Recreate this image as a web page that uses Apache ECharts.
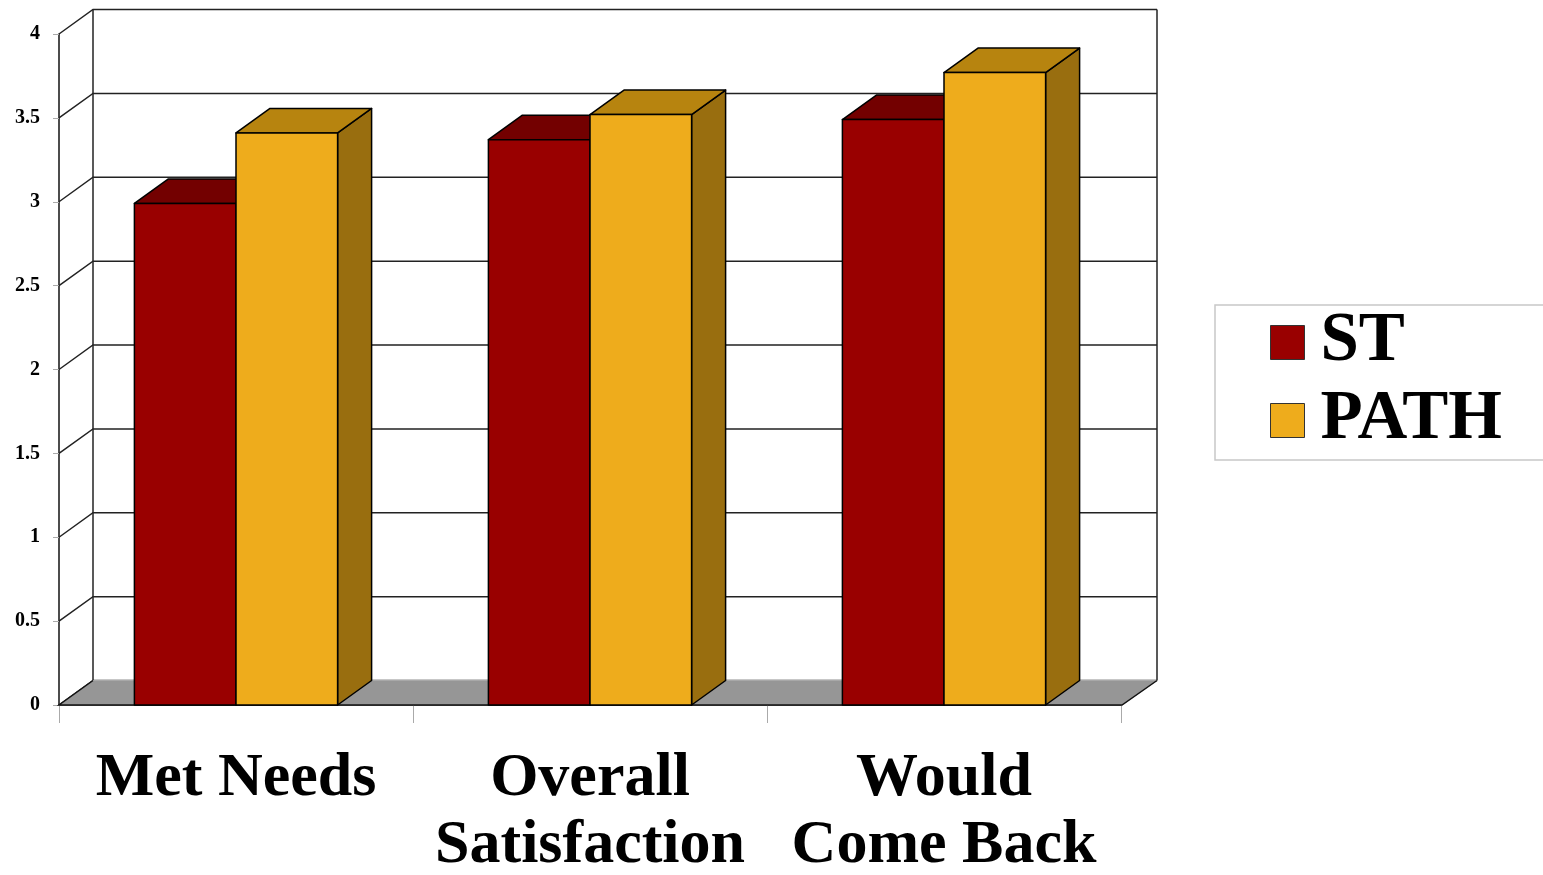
<!DOCTYPE html>
<html>
<head>
<meta charset="UTF-8">
<title>ST vs PATH</title>
<script src="https://cdn.jsdelivr.net/npm/echarts@6/dist/echarts.min.js"></script>
<style>
  html, body { margin: 0; padding: 0; background: #fff; }
  #chart { width: 1543px; height: 875px; }
</style>
</head>
<body>
<div id="chart"></div>
<script>
var categories = ['Met Needs', 'Overall\nSatisfaction', 'Would\nCome Back'];
var seriesNames = ['ST', 'PATH'];
var stValues = [2.99, 3.37, 3.49];
var pathValues = [3.41, 3.52, 3.77];
var yTicks = [0, 0.5, 1, 1.5, 2, 2.5, 3, 3.5, 4];

// depth of the fake 3d box, in px
var DX = 34, DY = -24.5;
var BAR_RATIO = 0.287;

var faces = {
  ST:   { front: '#990000', top: '#730000', side: '#5e0000' },
  PATH: { front: '#EEAC1C', top: '#B7840F', side: '#996E0F' }
};

function toPairs(vals) {
  return vals.map(function (v, i) { return [i, v]; });
}

function barRenderer(slot, c) {
  return function (params, api) {
    var cat = api.value(0);
    var base = api.coord([cat, 0]);
    var tip = api.coord([cat, api.value(1)]);
    var w = api.size([1, 0])[0] * BAR_RATIO;
    var x0 = slot === 0 ? base[0] - w : base[0];
    var x1 = x0 + w;
    var y0 = base[1], y1 = tip[1];
    var edge = { stroke: '#000', lineWidth: 1.5, lineJoin: 'round' };
    return {
      type: 'group',
      children: [
        { type: 'polygon', shape: { points: [[x1, y1], [x1 + DX, y1 + DY], [x1 + DX, y0 + DY], [x1, y0]] },
          style: Object.assign({ fill: c.side }, edge) },
        { type: 'polygon', shape: { points: [[x0, y1], [x0 + DX, y1 + DY], [x1 + DX, y1 + DY], [x1, y1]] },
          style: Object.assign({ fill: c.top }, edge) },
        { type: 'rect', shape: { x: x0, y: y1, width: w, height: y0 - y1 },
          style: Object.assign({ fill: c.front }, edge) }
      ]
    };
  };
}

function wallRenderer(params, api) {
  var cs = params.coordSys;
  var left = cs.x, right = cs.x + cs.width;
  var rdx = DX + 2; // the right end of the box looks a bit deeper
  var p = api.coord([0, api.value(0)]);
  var y = p[1];
  var line = { stroke: '#222', lineWidth: 1.5, fill: null };
  var kids = [
    { type: 'polyline', shape: { points: [[left, y], [left + DX, y + DY], [right + rdx, y + DY]] }, style: line }
  ];
  if (params.dataIndex === 0) {
    var top = cs.y;
    // back wall edges
    kids.push({ type: 'line', shape: { x1: left + DX, y1: top + DY, x2: left + DX, y2: y + DY }, style: line });
    kids.push({ type: 'line', shape: { x1: right + rdx, y1: top + DY, x2: right + rdx, y2: y + DY }, style: line });
    // floor
    kids.push({ type: 'polygon', shape: { points: [[left, y], [left + DX, y + DY], [right + rdx, y + DY], [right + 1, y]] },
      style: { fill: '#969696', stroke: '#a8a8a8', lineWidth: 1 } });
    kids.push({ type: 'polyline', shape: { points: [[left + DX, y + DY], [left, y], [right + 1, y], [right + rdx, y + DY]] },
      style: { stroke: '#111', lineWidth: 1.5, fill: null } });
  }
  return { type: 'group', children: kids };
}

var chart = echarts.init(document.getElementById('chart'));

chart.setOption({
  animation: false,
  color: [faces.ST.front, faces.PATH.front],
  grid: { left: 59, right: 422, top: 34, bottom: 170, outerBoundsMode: 'none', containLabel: false },
  legend: {
    data: seriesNames,
    orient: 'vertical',
    left: 1215,
    top: 305,
    padding: [3, 50, 5, 55],
    itemGap: 9,
    itemWidth: 34,
    itemHeight: 34,
    icon: 'rect',
    borderColor: '#c8c8c8',
    borderWidth: 1.5,
    itemStyle: { borderColor: '#333', borderWidth: 1 },
    textStyle: {
      fontFamily: 'Liberation Serif',
      fontWeight: 'bold',
      fontSize: 69,
      lineHeight: 66,
      color: '#000',
      padding: [0, 0, 0, 11]
    }
  },
  xAxis: {
    type: 'category',
    data: categories,
    boundaryGap: true,
    axisLine: { lineStyle: { color: '#111', width: 1.5 } },
    axisTick: { show: true, length: 18, lineStyle: { color: '#aaa', width: 1 } },
    axisLabel: {
      interval: 0,
      margin: 40,
      fontFamily: 'Liberation Serif',
      fontWeight: 'bold',
      fontSize: 62,
      lineHeight: 67,
      color: '#000'
    },
    splitLine: { show: false }
  },
  yAxis: {
    type: 'value',
    min: 0,
    max: 4,
    interval: 0.5,
    axisLine: { show: true, lineStyle: { color: '#111', width: 1.5 } },
    axisTick: { show: true, length: 6, lineStyle: { color: '#aaa' } },
    axisLabel: {
      margin: 19,
      fontFamily: 'Liberation Serif',
      fontWeight: 'bold',
      fontSize: 20,
      color: '#000'
    },
    splitLine: { show: false }
  },
  series: [
    {
      name: 'wall',
      type: 'custom',
      renderItem: wallRenderer,
      data: yTicks.map(function (t) { return [t]; }),
      encode: { y: 0 },
      silent: true,
      z: 1
    },
    {
      name: 'ST',
      type: 'custom',
      renderItem: barRenderer(0, faces.ST),
      data: toPairs(stValues),
      encode: { x: 0, y: 1 },
      itemStyle: { color: faces.ST.front },
      z: 3
    },
    {
      name: 'PATH',
      type: 'custom',
      renderItem: barRenderer(1, faces.PATH),
      data: toPairs(pathValues),
      encode: { x: 0, y: 1 },
      itemStyle: { color: faces.PATH.front },
      z: 4
    }
  ]
});
</script>
</body>
</html>
